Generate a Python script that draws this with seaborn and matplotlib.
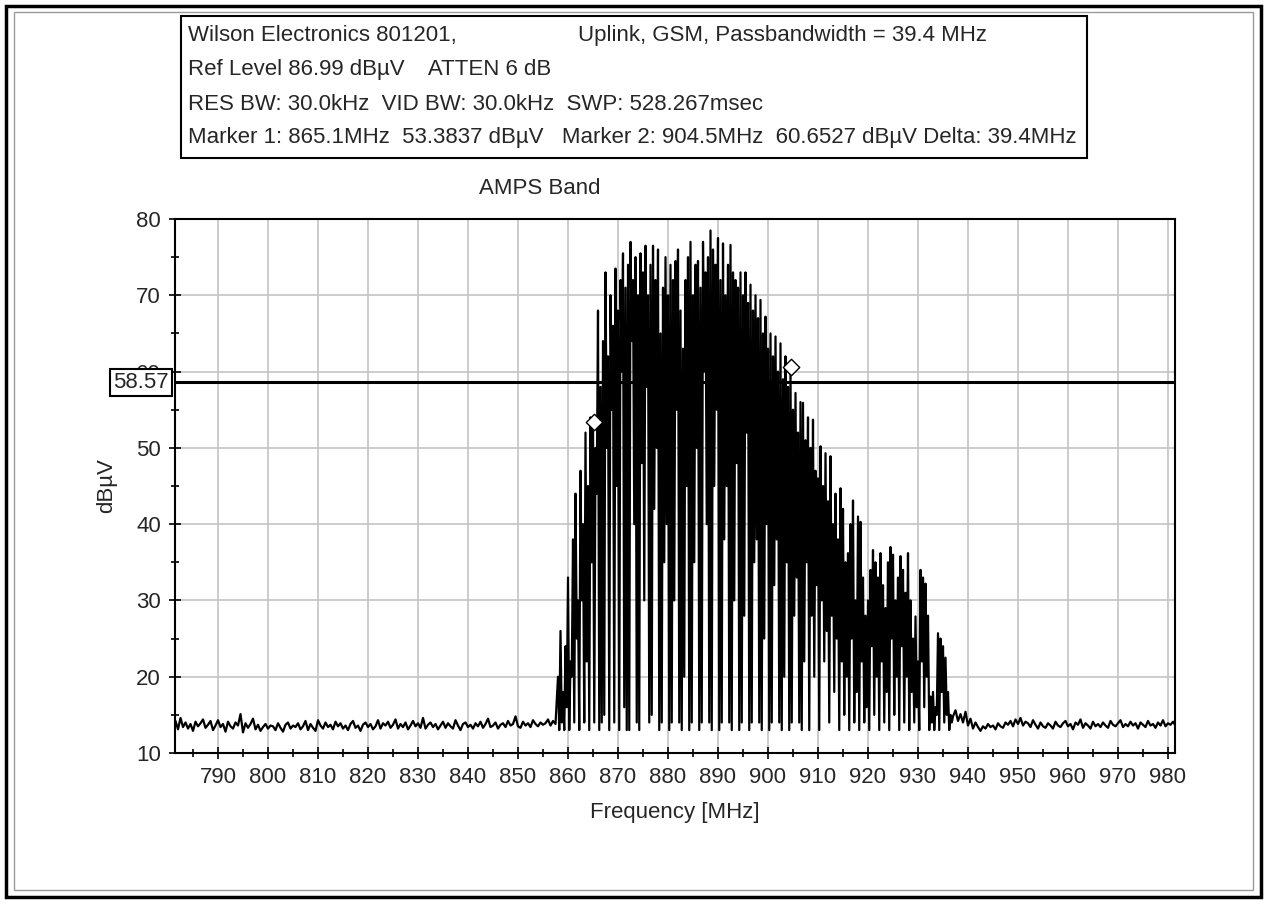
import numpy as np
import pandas as pd
import seaborn as sns
import matplotlib
matplotlib.use('Agg')
import matplotlib.pyplot as plt
from matplotlib import patches
from matplotlib.ticker import MultipleLocator

# noise floor below the band, 781.5 .. 857.5 MHz every 0.5 MHz
noise_lo = [
    14.2, 13.1, 14.6, 13.4, 14.0, 13.2, 13.8, 12.9, 14.1, 13.5,
    13.9, 14.4, 13.3, 13.7, 14.2, 13.0, 13.6, 14.3, 13.4, 13.8,
    12.8, 14.1, 13.5, 13.2, 14.0, 13.6, 15.1, 12.7, 13.9, 13.3,
    13.8, 14.5, 13.1, 13.7, 12.9, 13.4, 13.8, 13.2, 13.6, 13.5,
    13.0, 13.9, 13.3, 12.8, 13.7, 14.0, 13.2, 13.6, 13.4, 13.9,
    13.1, 13.5, 14.2, 13.0, 13.8, 13.3, 12.9, 14.3, 13.6, 13.2,
    14.0, 13.4, 13.7, 13.1, 14.1, 13.5, 13.9, 13.2, 13.6, 13.0,
    13.8, 14.2, 13.3, 13.6, 12.9, 13.7, 14.0, 13.4, 13.8, 13.1,
    13.5, 14.3, 13.2, 13.9, 13.6, 14.1, 13.3, 13.7, 14.4, 13.2,
    13.8, 13.4, 14.0, 13.1, 13.6, 14.2, 13.5, 13.9, 13.3, 14.6,
    13.2, 13.7, 14.0, 13.4, 13.8, 13.1, 13.6, 14.1, 13.3, 13.9,
    13.5, 13.2, 14.3, 13.6, 13.0, 13.8, 14.0, 13.4, 13.7, 13.2,
    13.9, 13.5, 14.1, 13.3, 13.8, 14.5, 13.4, 13.6, 14.0, 13.2,
    13.7, 13.9, 13.4, 14.2, 13.6, 13.8, 14.8, 13.5, 13.3, 14.1,
    13.6, 13.9, 13.4, 14.3, 13.8, 13.5, 14.0, 13.7, 13.9, 14.4,
    13.6, 14.2, 13.8,
]

# channel peaks, 858.0 .. 936.5 MHz every 0.5 MHz
peaks = [
    20, 26, 18, 24, 33, 22, 38, 44, 30, 47,
    40, 52, 45, 54, 53.4, 50, 68, 58, 64, 73,
    62, 70, 66, 73.5, 68, 72, 75.5, 71, 74, 77,
    72, 75, 70, 75.5, 73, 76.5, 70, 74, 76.5, 72,
    76, 65, 71, 75, 70, 74, 72, 74.5, 76, 68,
    63, 72, 75, 77, 70, 74, 74.5, 71, 77, 73,
    75, 78.5, 76, 74, 77.5, 72, 76.8, 70, 74, 76.6,
    73, 72, 71, 73, 70, 73, 69, 71.4, 68, 70,
    67, 69.4, 65, 67.2, 63, 65, 62, 64.6, 60, 63.7,
    59, 62, 58, 60.65, 55, 57.2, 52, 56, 55.9, 51,
    54, 50, 53.7, 47, 46, 50.2, 45, 49.3, 43, 48.9,
    40, 44, 38, 44.7, 42, 35, 36.2, 40, 43.1, 30,
    41, 40.3, 33, 28, 30, 34, 36.6, 35, 33, 36.2,
    32, 29, 35, 37, 36, 30, 33, 35.8, 34, 31,
    36.2, 30, 25, 27.9, 22, 34, 33, 32.2, 28, 17.4,
    18, 16, 25.7, 25, 24, 22.5, 18, 15,
]

# dips between the peaks, 858.25 .. 936.75 MHz every 0.5 MHz
troughs = [
    13, 14, 13, 16, 13, 20, 14, 25, 13, 30,
    14, 22, 13, 35, 14, 44, 13, 14, 15, 50,
    13, 55, 14, 45, 13, 60, 16, 13, 13, 64,
    40, 14, 13, 48, 30, 58, 14, 15, 42, 50,
    13, 14, 35, 40, 13, 14, 30, 55, 14, 13,
    20, 45, 13, 14, 35, 50, 13, 14, 60, 40,
    14, 13, 45, 55, 13, 14, 38, 45, 14, 13,
    30, 48, 13, 14, 28, 52, 13, 14, 35, 38,
    14, 13, 25, 40, 13, 14, 32, 38, 14, 13,
    20, 35, 13, 14, 28, 33, 14, 13, 22, 35,
    13, 28, 20, 32, 13, 30, 22, 26, 14, 28,
    18, 25, 13, 22, 15, 20, 13, 25, 14, 18,
    13, 22, 14, 16, 13, 24, 15, 20, 13, 22,
    14, 18, 13, 25, 15, 20, 13, 24, 14, 20,
    13, 18, 14, 16, 13, 22, 16, 20, 13, 14,
    13, 15, 13, 18, 14, 15, 13, 14,
]

# noise floor above the band, 937.0 .. 981.5 MHz every 0.5 MHz
noise_hi = [
    14.8, 15.6, 14.2, 15.1, 14.0, 15.4, 13.6, 14.5, 13.2, 14.0,
    13.4, 12.9, 13.5, 13.2, 13.8, 13.4, 13.6, 13.1, 13.9, 13.5,
    13.3, 14.0, 13.7, 14.2, 13.5, 14.4, 13.8, 14.6, 13.6, 14.1,
    13.9, 13.4, 14.3, 13.7, 13.2, 14.0, 13.5, 13.3, 13.9, 13.6,
    13.2, 14.1, 13.6, 13.4, 13.9, 14.2, 13.5, 13.8, 13.1, 14.0,
    13.7, 14.4, 13.3, 13.9, 13.6, 13.2, 14.1, 13.5, 13.8, 13.4,
    14.0, 13.6, 13.3, 14.2, 13.7, 13.5, 13.9, 14.3, 13.4, 13.8,
    13.5, 14.1, 13.6, 13.9, 13.2, 14.0, 13.7, 13.4, 14.2, 13.6,
    13.8, 13.3, 14.0, 13.6, 14.3, 13.5, 13.9, 13.7, 14.1, 13.6,
]

marker_freq = [865.1, 904.5]
marker_level = [53.3837, 60.6527]
ref_line = 58.57

info_left = [
    "Wilson Electronics 801201,",
    "Ref Level 86.99 dB\u00b5V    ATTEN 6 dB",
    "RES BW: 30.0kHz  VID BW: 30.0kHz  SWP: 528.267msec",
    "Marker 1: 865.1MHz  53.3837 dB\u00b5V   Marker 2: 904.5MHz  60.6527 dB\u00b5V Delta: 39.4MHz",
]
info_right = "Uplink, GSM, Passbandwidth = 39.4 MHz"

# assemble the sweep
sig = np.column_stack([peaks, troughs]).ravel()
freq = np.concatenate([
    781.5 + 0.5 * np.arange(len(noise_lo)),
    858.0 + 0.25 * np.arange(len(sig)),
    937.0 + 0.5 * np.arange(len(noise_hi)),
])
level = np.concatenate([noise_lo, sig, noise_hi])
df = pd.DataFrame({'freq': freq, 'level': level})
df_mk = pd.DataFrame({'freq': marker_freq, 'level': marker_level})

sns.set_theme(style='white')
plt.rcParams['font.family'] = ['Liberation Sans', 'DejaVu Sans']

W, H = 1267, 900
fig = plt.figure(figsize=(W / 100, H / 100), dpi=100)
fig.patch.set_facecolor('white')
ax = fig.add_axes([175 / W, 1 - 753 / H, 1000 / W, 534 / H])

sns.lineplot(data=df, x='freq', y='level', ax=ax, color='black', lw=1.6,
             estimator=None, sort=False, zorder=3)
ax.axhline(ref_line, color='black', lw=2.2, zorder=4)
sns.scatterplot(data=df_mk, x='freq', y='level', ax=ax, marker='D', s=70,
                facecolor='white', edgecolor='black', linewidth=1.0, zorder=5)

ax.set_xlim(781.4, 981.4)
ax.set_ylim(10, 80)
ax.xaxis.set_major_locator(MultipleLocator(10))
ax.xaxis.set_minor_locator(MultipleLocator(5))
ax.yaxis.set_major_locator(MultipleLocator(10))
ax.yaxis.set_minor_locator(MultipleLocator(5))
ax.grid(True, which='major', color='#c4c4c4', lw=1.2)
ax.set_axisbelow(True)
ax.tick_params(which='major', direction='inout', length=8, width=1.2, color='black',
               labelsize=16, pad=6, bottom=True, left=True)
ax.tick_params(which='minor', direction='inout', length=6, width=1.2, color='black',
               bottom=True, left=True)
for side in ['top', 'right', 'left', 'bottom']:
    ax.spines[side].set_color('black')
    ax.spines[side].set_linewidth(1.5)

ax.set_xlabel('Frequency [MHz]', fontsize=16, labelpad=10)
ax.set_ylabel('dB\u00b5V', fontsize=16, labelpad=14)

ax.text(-0.0065, ref_line, f'{ref_line:.2f}', transform=ax.get_yaxis_transform(),
        ha='right', va='center', fontsize=16, zorder=10, clip_on=False,
        bbox=dict(boxstyle='square,pad=0.15', fc='white', ec='black', lw=1.5))

# header box and title
fig.add_artist(patches.Rectangle((181 / W, 1 - 158 / H), 906 / W, 142 / H,
                                 transform=fig.transFigure, fill=False,
                                 ec='black', lw=1.5))
for i, line in enumerate(info_left):
    fig.text(188 / W, 1 - (36 + 34 * i) / H, line, fontsize=16, va='center')
fig.text(578 / W, 1 - 36 / H, info_right, fontsize=16, va='center')
fig.text(540 / W, 1 - 189 / H, 'AMPS Band', fontsize=16, ha='center', va='center')

# window frame
fig.add_artist(patches.Rectangle((6 / W, 3 / H), 1255 / W, 891 / H,
                                 transform=fig.transFigure, fill=False,
                                 ec='black', lw=2.5))
fig.add_artist(patches.Rectangle((14 / W, 10 / H), 1239 / W, 878 / H,
                                 transform=fig.transFigure, fill=False,
                                 ec='#9a9a9a', lw=1.0))

fig.savefig('out.png', dpi=100)
